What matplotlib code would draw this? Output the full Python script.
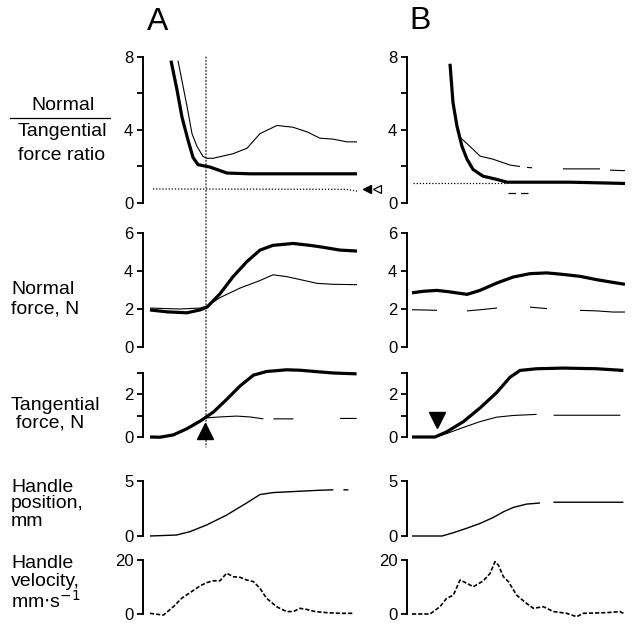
import numpy as np
from matplotlib import pyplot as plt
from matplotlib.patches import ConnectionPatch
from matplotlib.lines import Line2D

plt.rcParams['font.family'] = ['Liberation Sans', 'DejaVu Sans']

W, H = 632, 624
nan = np.nan

# ---------------- panel A (time in ms) ----------------
a_ratio_thick_t = [105, 135, 160, 190, 215, 240, 300, 385, 500, 700, 900, 1035]
a_ratio_thick = [7.8, 6.2, 4.7, 3.45, 2.5, 2.1, 1.97, 1.64, 1.6, 1.6, 1.6, 1.6]
a_ratio_thin_t = [140, 185, 210, 235, 265, 285, 315, 415, 485, 550, 635, 715, 785, 850, 915, 985, 1035]
a_ratio_thin = [7.8, 5.3, 3.8, 3.1, 2.55, 2.45, 2.45, 2.7, 3.0, 3.8, 4.25, 4.15, 3.9, 3.55, 3.5, 3.35, 3.35]
a_slip_t = [15, 980, 1035]
a_slip = [0.77, 0.75, 0.65]

a_norm_t = [0, 85, 185, 250, 285, 350, 415, 485, 550, 615, 715, 800, 865, 950, 1035]
a_norm_thick = [1.95, 1.85, 1.8, 1.95, 2.1, 2.8, 3.7, 4.5, 5.1, 5.35, 5.45, 5.35, 5.25, 5.1, 5.05]
a_norm_thin_t = [0, 150, 250, 285, 350, 450, 550, 615, 685, 750, 835, 915, 1035]
a_norm_thin = [2.05, 2.0, 2.05, 2.15, 2.6, 3.1, 3.5, 3.8, 3.7, 3.55, 3.35, 3.3, 3.28]

a_tang_t = [0, 50, 117, 183, 250, 317, 383, 450, 517, 583, 683, 750, 850, 917, 1033]
a_tang_thick = [0, -0.01, 0.1, 0.38, 0.74, 1.17, 1.76, 2.39, 2.9, 3.07, 3.15, 3.13, 3.05, 3.0, 2.96]
a_tang_thin_t = [0, 50, 117, 183, 240, 283, 350, 433, 500, 567, 590, 617, 717, 740, 950, 1033]
a_tang_thin = [0, -0.01, 0.1, 0.38, 0.72, 0.9, 0.94, 0.98, 0.94, 0.85, nan, 0.85, 0.85, nan, 0.87, 0.87]

a_pos_t = [0, 133, 200, 283, 383, 483, 550, 617, 750, 850, 917, 940, 967, 992]
a_pos = [0, 0.09, 0.4, 1.0, 1.9, 3.0, 3.77, 3.95, 4.07, 4.16, 4.2, nan, 4.2, 4.2]

a_vel_t = [0, 67, 117, 158, 200, 250, 283, 317, 350, 383, 417, 450, 483, 517, 550,
           583, 633, 683, 717, 750, 783, 825, 883, 950, 1017]
a_vel = [0.25, -0.4, 2.7, 5.8, 7.9, 10.4, 11.6, 12.3, 12.3, 15.1, 13.8, 13.6, 12.6, 12.0, 9.5,
         5.8, 2.7, 0.9, 0.9, 2.1, 1.7, 0.9, 0.5, 0.25, 0.25]

a_event_t = 280      # dotted line through the A column
a_arrow_t = 275

# ---------------- panel B ----------------
b_ratio_thick_t = [190, 205, 225, 250, 275, 305, 355, 425, 475, 625, 790, 955, 1065]
b_ratio_thick = [7.63, 5.5, 4.2, 3.1, 2.4, 1.84, 1.47, 1.29, 1.14, 1.14, 1.14, 1.1, 1.07]
b_ratio_thin_t = [240, 255, 290, 340, 405, 490, 540, 555, 575, 600, 680, 755, 940, 965, 990, 1065]
b_ratio_thin = [3.6, 3.45, 3.1, 2.57, 2.4, 2.08, 2.0, nan, 1.95, 1.93, nan, 1.87, 1.87, nan, 1.8, 1.77]
b_slip_t = [5, 475]
b_slip = [1.1, 1.1]
b_low_t = [480, 580]
b_low = [0.55, 0.55]

b_norm_t = [0, 55, 125, 190, 275, 340, 425, 505, 590, 675, 755, 840, 925, 1005, 1065]
b_norm_thick = [2.85, 2.93, 2.98, 2.9, 2.77, 2.98, 3.37, 3.68, 3.86, 3.9, 3.82, 3.72, 3.54, 3.4, 3.3]
b_norm_thin = [1.96, 1.95, 1.93, nan, 1.9, 1.96, 2.05, nan, 2.1, 2.02, nan, 1.93, 1.9, 1.84, 1.84]

b_tang_t = [0, 115, 173, 257, 340, 423, 490, 540, 623, 757, 923, 1057]
b_tang_thick = [0, 0, 0.24, 0.72, 1.36, 2.08, 2.8, 3.12, 3.2, 3.23, 3.2, 3.12]
b_tang_thin_t = [115, 173, 257, 340, 423, 507, 623, 665, 708, 1042]
b_tang_thin = [0, 0.16, 0.45, 0.72, 0.93, 1.01, 1.06, nan, 1.02, 1.02]
b_arrow_t = 125

b_pos_t = [0, 150, 207, 273, 340, 407, 457, 507, 573, 640, 670, 707, 1057]
b_pos = [0, 0, 0.3, 0.7, 1.14, 1.69, 2.2, 2.6, 2.9, 3.0, nan, 3.07, 3.07]

b_vel_t = [0, 90, 140, 173, 207, 240, 273, 307, 357, 390, 415, 432, 457, 482, 523,
           573, 607, 657, 707, 773, 823, 857, 973, 1040, 1057]
b_vel = [0, 0, 2.7, 5.8, 7.0, 12.6, 11.4, 10.1, 12.3, 15.0, 19.4, 18.1, 13.8, 12.0, 7.0,
         3.9, 2.1, 2.7, 0.9, 0.25, -1.0, 0.25, 0.5, 0.9, 0.25]

# ---------------- layout ----------------
fig = plt.figure(figsize=(W / 100, H / 100), dpi=100)

# (top px, bottom px, ylim, ticks, tick labels)
rows = [
    (57, 203, (0, 8), [0, 2, 4, 6, 8], ['0', '', '4', '', '8']),
    (233, 347, (0, 6), [0, 2, 4, 6], ['0', '2', '4', '6']),
    (373, 437, (0, 3), [0, 1, 2, 3], ['0', '', '2', '']),
    (481, 536, (0, 5), [0, 5], ['0', '5']),
    (560, 614, (0, 20), [0, 20], ['0', '20']),
]
cols = [
    (143, 365, (-35, 1075)),
    (407, 632, (-25, 1100)),
]


def add_panel(col, row):
    x0, x1, xlim = col
    y0, y1, ylim, ticks, labels = row
    ax = fig.add_axes([x0 / W, 1 - y1 / H, (x1 - x0) / W, (y1 - y0) / H])
    ax.set_xlim(xlim)
    ax.set_ylim(ylim)
    for s in ['top', 'right', 'bottom']:
        ax.spines[s].set_visible(False)
    ax.spines['left'].set_linewidth(1.4)
    ax.set_xticks([])
    ax.set_yticks(ticks)
    ax.set_yticklabels(labels)
    ax.tick_params(axis='y', length=4, width=1.3, pad=3, labelsize=12)
    ax.patch.set_visible(False)
    return ax


axA = [add_panel(cols[0], r) for r in rows]
axB = [add_panel(cols[1], r) for r in rows]

THICK = 2.3
THIN = 0.8


def line(ax, t, v, lw=THIN, **kw):
    ax.plot(t, v, color='black', lw=lw, clip_on=False, solid_capstyle='butt', **kw)


# ratio
line(axA[0], a_ratio_thick_t, a_ratio_thick, THICK)
line(axA[0], a_ratio_thin_t, a_ratio_thin)
line(axA[0], a_slip_t, a_slip, 0.9, ls=(0, (1, 1.5)))
axA[0].plot([1085], [0.75], marker='<', color='black', ms=6, clip_on=False)
axA[0].plot([1135], [0.75], marker='<', mfc='white', mec='black', mew=0.9, ms=6, clip_on=False)

line(axB[0], b_ratio_thick_t, b_ratio_thick, THICK)
line(axB[0], b_ratio_thin_t, b_ratio_thin)
line(axB[0], b_slip_t, b_slip, 0.9, ls=(0, (1, 1.5)))
line(axB[0], b_low_t, b_low, 0.9, ls=(0, (6, 4)))

# normal force
line(axA[1], a_norm_t, a_norm_thick, THICK)
line(axA[1], a_norm_thin_t, a_norm_thin)
line(axB[1], b_norm_t, b_norm_thick, THICK)
line(axB[1], b_norm_t, b_norm_thin)

# tangential force
line(axA[2], a_tang_t, a_tang_thick, THICK)
line(axA[2], a_tang_thin_t, a_tang_thin)
axA[2].plot([a_arrow_t], [0.3], marker='^', color='black', ms=11, clip_on=False)
line(axB[2], b_tang_t, b_tang_thick, THICK)
line(axB[2], b_tang_thin_t, b_tang_thin)
axB[2].plot([b_arrow_t], [0.8], marker='v', color='black', ms=11, clip_on=False)

# handle position
line(axA[3], a_pos_t, a_pos, 1.0)
line(axB[3], b_pos_t, b_pos, 1.0)

# handle velocity
line(axA[4], a_vel_t, a_vel, 1.2, ls=(0, (2.5, 1.2)))
line(axB[4], b_vel_t, b_vel, 1.2, ls=(0, (2.5, 1.2)))

# vertical dotted event line through panel A
con = ConnectionPatch(xyA=(a_event_t, 8), coordsA=axA[0].transData,
                      xyB=(a_event_t, -0.47), coordsB=axA[2].transData,
                      color='black', lw=0.8, ls=(0, (1, 2)))
fig.add_artist(con)

# ---------------- text ----------------
def ftext(x, y, s, **kw):
    fig.text(x / W, 1 - y / H, s, va='center', **kw)


ftext(158, 22, 'A', fontsize=23, ha='center')
ftext(420, 21, 'B', fontsize=23, ha='center')

ftext(63, 106, 'Normal', fontsize=14, ha='center')
fig.add_artist(Line2D([10 / W, 110 / W], [1 - 118 / H, 1 - 118 / H], color='black', lw=0.9))
ftext(62, 132, 'Tangential', fontsize=14, ha='center')
ftext(62, 155, 'force ratio', fontsize=14, ha='center')

ftext(11, 290, 'Normal', fontsize=14, ha='left')
ftext(11, 309, 'force, N', fontsize=14, ha='left')

ftext(11, 406, 'Tangential', fontsize=14, ha='left')
ftext(16, 423, 'force, N', fontsize=14, ha='left')

ftext(11, 487, 'Handle', fontsize=14, ha='left')
ftext(11, 504, 'position,', fontsize=14, ha='left')
ftext(11, 521, 'mm', fontsize=14, ha='left')

ftext(11, 564, 'Handle', fontsize=14, ha='left')
ftext(11, 582, 'velocity,', fontsize=14, ha='left')
ftext(11, 601, r'mm$\cdot$s$^{-1}$', fontsize=14, ha='left')

plt.savefig('out.png', dpi=100)
